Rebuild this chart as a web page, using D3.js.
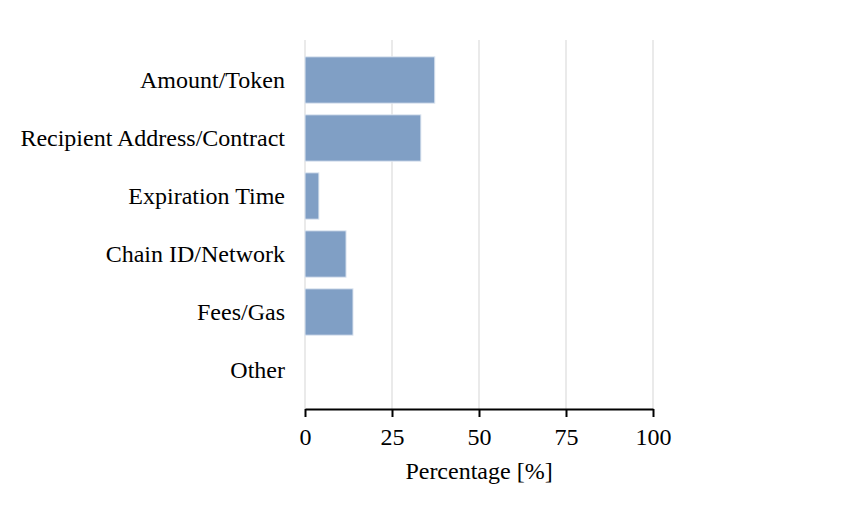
<!DOCTYPE html>
<html><head><meta charset="utf-8">
<script src="https://cdn.jsdelivr.net/npm/d3@7"></script>
<style>body{margin:0;background:#fff}</style>
</head><body>
<svg id="c" width="853" height="510"></svg>
<script>
const categories = ["Amount/Token","Recipient Address/Contract","Expiration Time","Chain ID/Network","Fees/Gas","Other"];
const values = [37.3, 33.3, 4.0, 11.8, 13.8, 0];
const xTicks = [0,25,50,75,100];
const xTitle = "Percentage [%]";

const svg = d3.select("#c");
const font = "Liberation Serif, Times New Roman, serif";
const x = d3.scaleLinear().domain([0,100]).range([305,653]);
const y = d3.scaleBand().domain(categories).range([51,399]).paddingInner(0.2).paddingOuter(0.1);

// gridlines
svg.append("g").selectAll("line").data(xTicks).join("line")
  .attr("x1",d=>x(d)).attr("x2",d=>x(d)).attr("y1",40).attr("y2",409)
  .attr("stroke","#e3e3e3").attr("stroke-width",1.5);

// bars
svg.append("g").selectAll("rect").data(categories).join("rect")
  .attr("x",x(0)).attr("y",d=>y(d))
  .attr("width",(d,i)=>x(values[i])-x(0)).attr("height",y.bandwidth())
  .attr("fill","#809fc5").attr("stroke","#dfe7f1").attr("stroke-width",1);

// category labels
svg.append("g").selectAll("text").data(categories).join("text")
  .attr("x",285).attr("y",d=>y(d)+y.bandwidth()/2).attr("dy","0.35em")
  .attr("text-anchor","end").style("font-family",font).style("font-size","24px").attr("fill","#000")
  .text(d=>d);

// x axis
const xa = svg.append("g").attr("transform","translate(0,409)")
  .call(d3.axisBottom(x).tickValues(xTicks).tickSize(8).tickSizeOuter(0).tickPadding(11));
xa.select(".domain").attr("stroke","#000").attr("stroke-width",2);
xa.selectAll(".tick line").attr("stroke","#000").attr("stroke-width",2);
xa.selectAll(".tick text").style("font-family",font).style("font-size","24px").attr("fill","#000");

svg.append("text").attr("x",x(50)).attr("y",479).attr("text-anchor","middle")
  .style("font-family",font).style("font-size","24px").attr("fill","#000").text(xTitle);
</script>
</body></html>
